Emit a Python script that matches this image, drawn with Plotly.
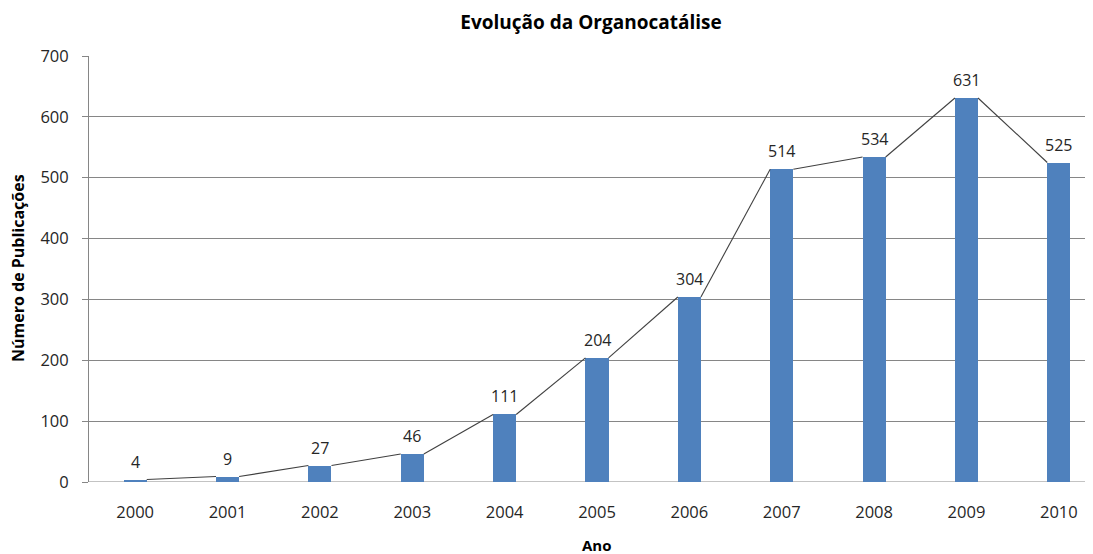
import plotly.graph_objects as go

anos = ["2000", "2001", "2002", "2003", "2004", "2005", "2006", "2007", "2008", "2009", "2010"]
publicacoes = [4, 9, 27, 46, 111, 204, 304, 514, 534, 631, 525]
y_ticks = [0, 100, 200, 300, 400, 500, 600, 700]

FONT = "Open Sans"
BAR_W = 0.25
idx = list(range(len(anos)))

# page body has an 8px margin: the figure is sized/offset to compensate
W, H = 1085, 546
ML, MT, MB = 81, 48, 72
PW, PH = W - ML, H - MT - MB

# connector line: from right top corner of each bar to left top corner of the next
lx, ly = [], []
for i in range(len(anos) - 1):
    lx += [i + BAR_W / 2, i + 1 - BAR_W / 2, None]
    ly += [publicacoes[i], publicacoes[i + 1], None]

fig = go.Figure()
fig.add_trace(go.Bar(
    x=idx, y=publicacoes, width=BAR_W,
    marker=dict(color="#4F81BD", line=dict(width=0)),
    showlegend=False,
))
fig.add_trace(go.Scatter(
    x=lx, y=ly, mode="lines", line=dict(color="#404040", width=1.1),
    showlegend=False, hoverinfo="skip", connectgaps=False,
))
for i, v in zip(idx, publicacoes):
    fig.add_annotation(x=i, y=v, text=str(v), showarrow=False, yanchor="bottom",
                       yshift=5, font=dict(family=FONT, size=16, color="#262626"))

fig.update_layout(
    width=W, height=H,
    margin=dict(l=ML, r=0, t=MT, b=MB),
    paper_bgcolor="white", plot_bgcolor="white",
    font=dict(family=FONT, size=16, color="#262626"),
    title=dict(text="<b>Evolução da Organocatálise</b>", x=583 / W, xanchor="center",
               y=1 - 14 / H, yanchor="middle", font=dict(family=FONT, size=19, color="#000000")),
    bargap=0,
)
fig.update_xaxes(
    range=[-0.5, 10.37], tickmode="array", tickvals=idx, ticktext=anos,
    showgrid=False, zeroline=False, showline=False, automargin=False,
    ticks="outside", ticklen=15, tickcolor="rgba(0,0,0,0)",
    tickfont=dict(family=FONT, size=16.5, color="#262626"),
)
fig.update_yaxes(
    range=[0, 700], tickvals=y_ticks, automargin=False,
    showgrid=True, gridcolor="#868686", gridwidth=1,
    zeroline=False, showline=True, linecolor="#868686", linewidth=1,
    ticks="outside", ticklen=6, tickcolor="#868686", ticklabelstandoff=10,
    tickfont=dict(family=FONT, size=16.5, color="#262626"),
)
fig.add_annotation(text="<b>Ano</b>", xref="paper", yref="paper", x=508 / PW,
                   y=-(545 - 482) / PH, showarrow=False, xanchor="center", yanchor="middle",
                   font=dict(family=FONT, size=15, color="#000000"))
fig.add_annotation(text="<b>Número de Publicações</b>", xref="paper", yref="paper",
                   x=-71 / PW, y=(482 - 268) / PH, textangle=-90, showarrow=False,
                   xanchor="center", yanchor="middle",
                   font=dict(family=FONT, size=16, color="#000000"))
fig.add_shape(type="line", xref="paper", yref="y", x0=0, x1=1, y0=0, y1=0,
              line=dict(color="#868686", width=1), layer="below")

fig.write_html("out.html")
